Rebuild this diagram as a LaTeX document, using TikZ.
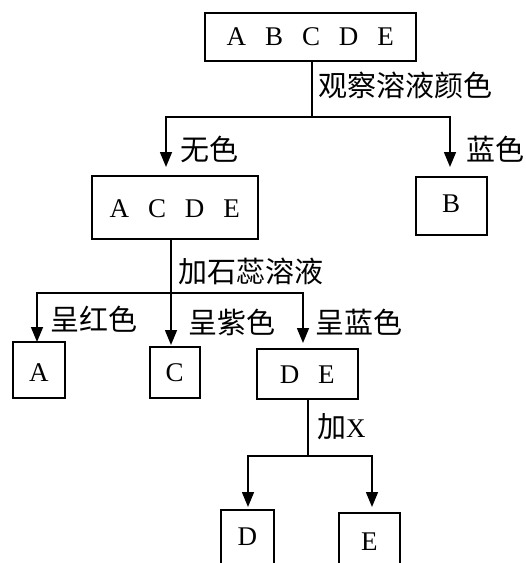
\documentclass[tikz,border=0pt]{standalone}
\usepackage{fontspec}
\usetikzlibrary{arrows.meta}
\newfontfamily\cjk{Noto Sans CJK SC}
\newfontfamily\latin[WordSpace=2.8]{Liberation Serif}
\begin{document}
\begin{tikzpicture}[x=1pt,y=-1pt,
  box/.style={draw, line width=1.5pt, inner xsep=0pt, inner ysep=0pt, anchor=north west,
              font=\latin\fontsize{27}{27}\selectfont},
  lab/.style={anchor=west, inner sep=0pt, font=\cjk\fontsize{29}{29}\selectfont},
  ln/.style={line width=1.5pt},
  arr/.style={ln, -{Triangle[length=15pt,width=12pt]}}]
\useasboundingbox (0,0) rectangle (526,563);
\clip (0,0) rectangle (526,563);

% level 1
\node[box, minimum width=211pt, text height=33pt, text depth=15pt] (top) at (204,12) {A B C D E};
\coordinate (j1) at (312,117);
\coordinate (a1) at (166,167);
\coordinate (b1) at (450,167);
\draw[ln] (top.south -| j1) -- (j1);
\draw[arr] (j1) -| (a1);
\draw[arr] (j1) -| (b1);
\node[lab] (l1) at (318,85) {观察溶液颜色};
\node[lab] (l2) at (180,149) {无色};
\node[lab] (l3) at (466,149) {蓝色};

% level 2
\node[box, minimum width=166pt, text height=42pt, text depth=21pt] (acde) at (91,175) {A C D E};
\node[box, minimum width=71pt, text height=36pt, text depth=22pt] (b) at (415,176) {B};
\coordinate (j2) at (171,293);
\coordinate (a2) at (37,342);
\coordinate (c2) at (171,345);
\coordinate (de2) at (303,343);
\draw[ln] (acde.south -| j2) -- (j2);
\draw[arr] (j2) -| (a2);
\draw[arr] (j2) -- (c2);
\draw[arr] (j2) -| (de2);
\node[lab] (l4) at (178,271) {加石蕊溶液};
\node[lab] (l5) at (50,319) {呈红色};
\node[lab] (l6) at (188,322) {呈紫色};
\node[lab] (l7) at (315,322) {呈蓝色};

% level 3
\node[box, minimum width=52pt, text height=40pt, text depth=16pt] (a) at (12,341) {A};
\node[box, minimum width=50pt, text height=35pt, text depth=16pt] (c) at (149,346) {C};
\node[box, minimum width=101pt, text height=35pt, text depth=15pt] (de) at (256,348) {D E};
\coordinate (j3) at (308,456);
\coordinate (d3) at (248,507);
\coordinate (e3) at (372,507);
\draw[ln] (de.south -| j3) -- (j3);
\draw[arr] (j3) -| (d3);
\draw[arr] (j3) -| (e3);
\node[lab] (l8) at (317,427) {加{\latin\fontsize{27}{27}\selectfont X}};

% level 4
\node[box, minimum width=53pt, text height=36pt, text depth=26pt] (d) at (220,509) {D};
\node[box, minimum width=61pt, text height=38pt, text depth=20pt] (e) at (338,512) {E};
\end{tikzpicture}
\end{document}
